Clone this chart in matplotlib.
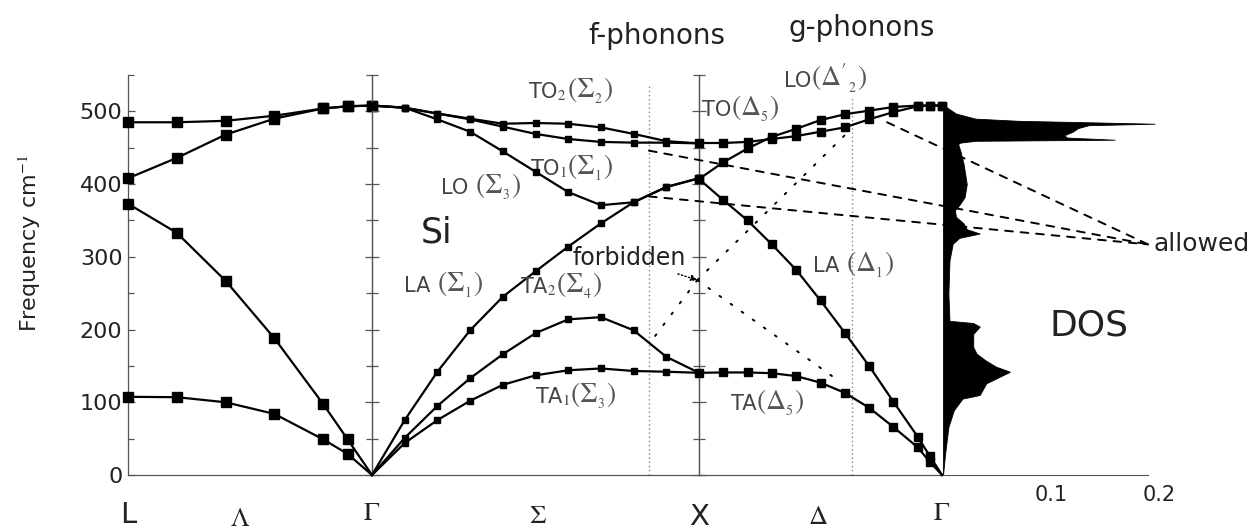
import numpy as np
import matplotlib
matplotlib.use('Agg')
import matplotlib.pyplot as plt
from matplotlib.patches import ConnectionPatch
from matplotlib.ticker import MultipleLocator

plt.rcParams['font.family'] = ['DejaVu Sans']
plt.rcParams['mathtext.fontset'] = 'stix'

# L -> Gamma (Lambda)
q_lg = [0, 0.2, 0.4, 0.6, 0.8, 0.9, 1.0]
lg_to = [485, 485, 487, 494, 504, 507, 508]
lg_lo = [408, 436, 468, 490, 504, 507, 508]
lg_la = [373, 333, 267, 188, 97.5, 49, 0]
lg_ta = [107.5, 107, 100, 84, 49, 29, 0]

# Gamma -> X (Sigma)
q_gx = [0, 0.1, 0.2, 0.3, 0.4, 0.5, 0.6, 0.7, 0.8, 0.9, 1.0]
gx_to2 = [508, 505, 497, 490, 483, 484, 483, 478, 469, 459, 456]
gx_to1 = [508, 505, 497, 489, 479, 469, 462, 458, 457, 457, 456]
gx_lo = [508, 505, 489, 472, 445, 417, 389, 371, 375, 396, 408]
gx_la = [0, 75.5, 142, 199, 245, 280, 314, 346, 375, 396, 408]
gx_ta2 = [0, 51, 95, 133, 166, 195, 214, 217, 199, 162.5, 140.5]
gx_ta1 = [0, 44, 75.5, 102, 124, 137, 144, 146.5, 143, 142, 140.5]

# X -> Gamma (Delta)
q_xg = [0, 0.1, 0.2, 0.3, 0.4, 0.5, 0.6, 0.7, 0.8, 0.9, 0.95, 1.0]
xg_to = [456.5, 456.5, 458, 462, 466, 472, 478, 489, 499, 507, 508, 508]
xg_lo = [407, 430, 449, 465, 476, 488, 496, 501, 506, 508, 508, 508]
xg_la = [407, 378, 350, 317, 282, 240, 195.5, 150, 100.7, 52.6, 26, 0]
xg_ta = [140.5, 141, 141, 140, 136, 127, 113, 92.5, 66, 38, 18, 0]

# phonon density of states
dos_freq = [0, 30, 66, 89, 105, 110, 126, 142, 149, 158,
            167, 176, 194, 204, 209, 212, 250, 295, 318, 326,
            332, 338, 346, 355, 364, 371, 382, 400, 428, 446,
            455, 457, 459.5, 461, 464, 467, 472, 477, 481, 483,
            485, 487, 490, 497, 506, 509]
dos_val = [0, 0.002, 0.005, 0.010, 0.018, 0.034, 0.040, 0.062, 0.049, 0.039,
           0.031, 0.028, 0.028, 0.034, 0.028, 0.006, 0.005, 0.006, 0.009, 0.015,
           0.034, 0.022, 0.019, 0.012, 0.011, 0.015, 0.020, 0.022, 0.019, 0.016,
           0.014, 0.016, 0.030, 0.159, 0.115, 0.112, 0.12, 0.125, 0.135, 0.196,
           0.135, 0.07, 0.03, 0.012, 0.003, 0]

f_phonon_q = 0.847   # Gamma-X
g_phonon_q = 0.63    # X-Gamma

W, H = 1254, 531
fig = plt.figure(figsize=(W / 100, H / 100), dpi=100)
bot, hgt = 56 / H, 400 / H
ax1 = fig.add_axes([128 / W, bot, 244 / W, hgt])
ax2 = fig.add_axes([372 / W, bot, 327 / W, hgt])
ax3 = fig.add_axes([699 / W, bot, 243 / W, hgt])
ax4 = fig.add_axes([943 / W, bot, 216 / W, hgt])

spine_c = '#555555'
for ax in (ax1, ax2, ax3):
    ax.set_xlim(0, 1)
    ax.set_ylim(0, 550)
    ax.spines['top'].set_visible(False)
    for s in ax.spines.values():
        s.set_color(spine_c)
        s.set_linewidth(0.9)
    ax.set_xticks([])
    ax.yaxis.set_major_locator(MultipleLocator(100))
    ax.yaxis.set_minor_locator(MultipleLocator(50))
    ax.tick_params(axis='y', which='both', direction='in', left=True, right=True,
                   labelleft=False, color=spine_c, width=0.9)
    ax.tick_params(axis='y', which='major', length=5)
    ax.tick_params(axis='y', which='minor', length=4)
    ax.patch.set_alpha(0)

ax1.tick_params(axis='y', labelleft=True, labelsize=16, pad=4, labelcolor='#222222')
ax3.spines['right'].set_visible(False)
ax3.tick_params(axis='y', which='both', right=False)
ax1.set_ylabel(r'Frequency cm$^{-1}$', fontsize=16, color='#222222')
ax1.yaxis.set_label_coords(-0.35, 0.58)


def branch(ax, q, f, ms):
    q = np.asarray(q)
    f = np.asarray(f, dtype=float)
    ax.plot(q, f, color='k', lw=1.6, zorder=3, clip_on=False)
    m = f > 0
    ax.plot(q[m], f[m], ls='none', marker='s', ms=ms, color='k', zorder=4, clip_on=False)


for f in (lg_to, lg_lo, lg_la, lg_ta):
    branch(ax1, q_lg, f, 7)
for f in (gx_to2, gx_to1, gx_lo, gx_la, gx_ta2, gx_ta1):
    branch(ax2, q_gx, f, 5)
for f in (xg_to, xg_lo, xg_la, xg_ta):
    branch(ax3, q_xg, f, 5.5)

# f- and g-phonon markers
ax2.plot([f_phonon_q, f_phonon_q], [0, 538], color='#888888', lw=1, ls=(0, (1, 2)), clip_on=False)
ax3.plot([g_phonon_q, g_phonon_q], [0, 520], color='#888888', lw=1, ls=(0, (1, 2)), clip_on=False)

# DOS panel
ax4.set_xlim(0, 0.2)
ax4.set_ylim(0, 550)
ax4.fill_betweenx(dos_freq, 0, dos_val, color='k', lw=0.6, clip_on=False)
for s in ('top', 'right', 'left'):
    ax4.spines[s].set_visible(False)
ax4.spines['bottom'].set_color(spine_c)
ax4.spines['bottom'].set_bounds(0, 0.19)
ax4.set_yticks([])
ax4.set_xticks([0.1, 0.2])
ax4.set_xticklabels(['0.1', '0.2'])
ax4.tick_params(axis='x', length=0, labelsize=15, pad=7, labelcolor='#222222')
ax4.patch.set_alpha(0)
ax4.text(0.135, 205, 'DOS', fontsize=26, ha='center', va='center', color='#222222')
ax4.text(0.195, 317, 'allowed', fontsize=18, ha='left', va='center', color='#222222')

# path labels
lab = dict(ha='center', va='center', clip_on=False, color='#222222')
ax1.text(0, -55, 'L', fontsize=21, **lab)
ax1.text(0.46, -60, r'$\Lambda$', fontsize=19, **lab)
ax1.text(1.0, -52, r'$\Gamma$', fontsize=19, **lab)
ax2.text(0.508, -57, r'$\Sigma$', fontsize=19, **lab)
ax2.text(1.0, -58, 'X', fontsize=21, **lab)
ax3.text(0.49, -58, r'$\Delta$', fontsize=19, **lab)
ax3.text(1.0, -52, r'$\Gamma$', fontsize=19, **lab)


# branch labels: sans-serif mode name + larger serif symmetry part
def mode_label(ax, x, y, head, tail):
    ax.text(x, y, head, fontsize=15, ha='right', va='baseline', color='#444444', clip_on=False)
    ax.text(x, y, tail, fontsize=20, ha='left', va='baseline', color='#555555', clip_on=False)


mode_label(ax2, 0.596, 518, r'TO$_2$', r'$(\Sigma_{_2})$')
mode_label(ax2, 0.596, 412, r'TO$_1$', r'$(\Sigma_{_1})$')
mode_label(ax2, 0.315, 387, 'LO ', r'$(\Sigma_{_3})$')
mode_label(ax2, 0.199, 252, 'LA ', r'$(\Sigma_{_1})$')
mode_label(ax2, 0.563, 250, r'TA$_2$', r'$(\Sigma_{_4})$')
mode_label(ax2, 0.606, 99, r'TA$_1$', r'$(\Sigma_{_3})$')
mode_label(ax3, 0.132, 494, 'TO', r'$(\Delta_{_5})$')
mode_label(ax3, 0.461, 533, 'LO', r"$(\Delta'_{_2})$")
mode_label(ax3, 0.605, 279, 'LA ', r'$(\Delta_{_1})$')
mode_label(ax3, 0.235, 89, 'TA', r'$(\Delta_{_5})$')

ax2.text(0.196, 334, 'Si', fontsize=25, ha='center', va='center', color='#222222')
ax2.text(0.872, 604, 'f-phonons', fontsize=20, ha='center', va='center', color='#222222', clip_on=False)
ax3.text(0.67, 614, 'g-phonons', fontsize=20, ha='center', va='center', color='#222222', clip_on=False)

# forbidden transitions
hub = (0.995, 268)
ax2.annotate('forbidden', xy=hub, xytext=(0.785, 298), fontsize=17, ha='center', va='center',
             color='#222222',
             arrowprops=dict(arrowstyle='-|>', color='k', lw=1, ls=':', mutation_scale=9,
                             shrinkA=2, shrinkB=0))
forbidden_targets = [(ax2, (f_phonon_q, 180)), (ax3, (0.56, 133)), (ax3, (g_phonon_q, 477))]
for axt, pt in forbidden_targets:
    con = ConnectionPatch(xyA=hub, coordsA='data', axesA=ax2, xyB=pt, coordsB='data', axesB=axt,
                          color='k', lw=1.4, ls=(0, (1, 6)))
    fig.add_artist(con)

# allowed transitions
allowed_end = (0.19, 317)
allowed_starts = [(ax3, (0.774, 485)), (ax2, (f_phonon_q, 446)), (ax2, (f_phonon_q, 383))]
for axs, pt in allowed_starts:
    con = ConnectionPatch(xyA=pt, coordsA='data', axesA=axs, xyB=allowed_end, coordsB='data', axesB=ax4,
                          color='k', lw=1.4, ls=(0, (4, 4)))
    fig.add_artist(con)

fig.savefig('out.png', dpi=100)
